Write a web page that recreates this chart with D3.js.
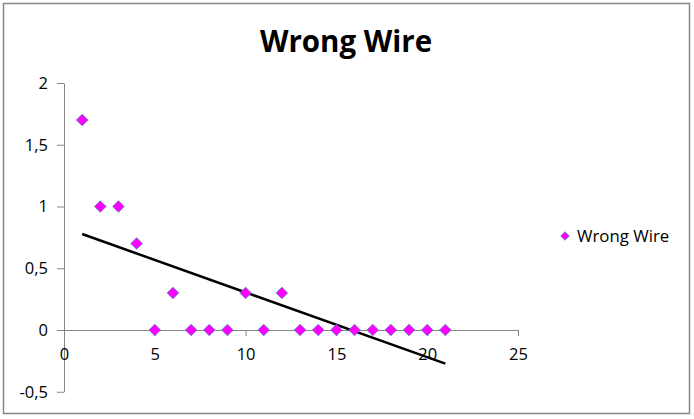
<!DOCTYPE html>
<html><head><meta charset="utf-8">
<script src="https://cdn.jsdelivr.net/npm/d3@7"></script>
<style>body{margin:0;background:#fff}svg{display:block}text{font-family:"Open Sans",sans-serif}</style>
</head><body>
<svg id="c" width="694" height="419"></svg>
<script>
const title = "Wrong Wire";
const seriesName = "Wrong Wire";
const xValues = [1,2,3,4,5,6,7,8,9,10,11,12,13,14,15,16,17,18,19,20,21];
const yValues = [1.7,1,1,0.7,0,0.3,0,0,0,0.3,0,0.3,0,0,0,0,0,0,0,0,0];
const xTicks = [0,5,10,15,20,25];
const yTicks = [-0.5,0,0.5,1,1.5,2];

const svg = d3.select("#c");
svg.append("rect").attr("x",3.5).attr("y",3.5).attr("width",686).attr("height",410)
  .attr("fill","#fff").attr("stroke","#868686").attr("stroke-width",1.5);

const x = d3.scaleLinear().domain([0,25]).range([64,518]);
const y = d3.scaleLinear().domain([-0.5,2]).range([391.75,83]);
const fmt = d => String(d).replace(".", ",");
const axisColor = "#868686";

// Y axis
const ya = svg.append("g").attr("transform",`translate(${x(0)},0)`)
  .call(d3.axisLeft(y).tickValues(yTicks).tickSize(7).tickPadding(9).tickSizeOuter(0).tickFormat(fmt));
ya.select(".domain").attr("stroke",axisColor);
ya.selectAll(".tick line").attr("stroke",axisColor);
ya.selectAll("text").attr("font-size",16.5).attr("fill","#000").attr("font-family","Open Sans");

// X axis at y=0
const xa = svg.append("g").attr("transform",`translate(0,${y(0)})`)
  .call(d3.axisBottom(x).tickValues(xTicks).tickSize(6).tickPadding(12).tickSizeOuter(0).tickFormat(fmt));
xa.select(".domain").attr("stroke",axisColor);
xa.selectAll(".tick line").attr("stroke",axisColor);
xa.selectAll("text").attr("font-size",16.5).attr("fill","#000").attr("font-family","Open Sans");

// Trend line (least squares from data)
const n = xValues.length;
const mx = d3.mean(xValues), my = d3.mean(yValues);
let sxy = 0, sxx = 0;
for (let i=0;i<n;i++){ sxy += (xValues[i]-mx)*(yValues[i]-my); sxx += (xValues[i]-mx)**2; }
const slope = sxy/sxx, icpt = my - slope*mx;
const x0 = d3.min(xValues), x1 = d3.max(xValues);
svg.append("line").attr("x1",x(x0)).attr("y1",y(icpt+slope*x0))
  .attr("x2",x(x1)).attr("y2",y(icpt+slope*x1))
  .attr("stroke","#000").attr("stroke-width",2.5);

// Points
const diamond = s => `M0,${-s}L${s},0L0,${s}L${-s},0Z`;
svg.append("g").selectAll("path").data(xValues.map((v,i)=>[v,yValues[i]])).join("path")
  .attr("transform",d=>`translate(${x(d[0])},${y(d[1])})`)
  .attr("d",diamond(5.8)).attr("fill","#ff00ff").attr("stroke","#4f81bd").attr("stroke-width",0.8);

// Title
svg.append("text").attr("x",346).attr("y",52).attr("text-anchor","middle")
  .attr("font-size",29.5).attr("font-weight","bold").text(title);

// Legend
svg.append("path").attr("transform","translate(565,236)").attr("d",diamond(4.3))
  .attr("fill","#ff00ff").attr("stroke","#4f81bd").attr("stroke-width",0.8);
svg.append("text").attr("x",577).attr("y",242).attr("font-size",16.8).text(seriesName);
</script>
</body></html>
